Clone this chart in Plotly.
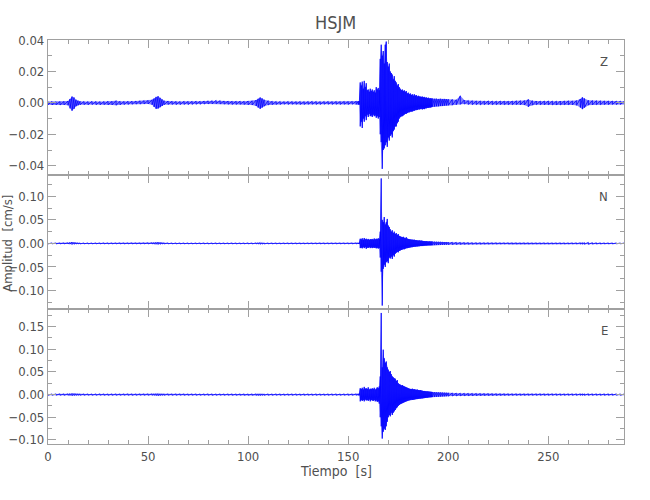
import plotly.graph_objects as go
from plotly.subplots import make_subplots

# Sample times [s] (envelope)
t = [0, 2, 4, 6, 8, 10, 11, 12, 13, 14,
     15, 16, 18, 20, 22, 24, 26, 28, 30, 32,
     34, 36, 38, 40, 42, 44, 46, 48, 50, 52,
     53, 54, 55, 56, 57, 58, 60, 62, 64, 66,
     68, 70, 72, 74, 76, 78, 80, 82, 84, 86,
     88, 90, 92, 94, 96, 98, 100, 102, 104, 105,
     106, 107, 108, 110, 112, 114, 116, 118, 120, 122,
     124, 126, 128, 130, 132, 134, 136, 138, 140, 142,
     144, 146, 148, 150, 152, 154, 155, 155.5, 156, 156.5,
     157, 157.5, 158, 158.5, 159, 159.5, 160, 160.5, 161, 161.5,
     162, 162.5, 163, 163.5, 164, 164.5, 165, 165.5, 166, 166.5,
     167, 167.5, 168, 168.5, 169, 169.5, 170, 170.5, 171, 171.5,
     172, 172.5, 173, 173.5, 174, 174.5, 175, 175.5, 176, 176.5,
     177, 177.5, 178, 178.5, 179, 179.5, 180, 180.5, 181, 181.5,
     182, 182.5, 183, 183.5, 184, 184.5, 185, 185.5, 186, 186.5,
     187, 187.5, 188, 188.5, 189, 189.5, 190, 190.5, 191, 191.5,
     192, 193, 194, 195, 196, 197, 198, 199, 200, 202,
     204, 206, 208, 210, 212, 214, 216, 218, 220, 222,
     224, 226, 228, 230, 232, 234, 236, 238, 240, 242,
     244, 246, 248, 250, 252, 254, 256, 258, 260, 262,
     264, 266, 267, 268, 270, 272, 274, 276, 278, 280,
     282, 284, 286, 288]

# Envelopes in units of 1e-4 cm/s
z_hi = [8, 9, 7, 8, 9, 12, 25, 40, 34, 20,
        14, 10, 9, 8, 10, 9, 8, 9, 10, 9,
        14, 10, 9, 10, 11, 12, 13, 14, 15, 20,
        28, 38, 42, 32, 22, 14, 12, 10, 9, 9,
        10, 9, 10, 11, 10, 12, 13, 14, 16, 14,
        12, 11, 10, 10, 11, 10, 12, 13, 18, 26,
        34, 28, 20, 14, 10, 9, 9, 8, 9, 9,
        8, 9, 8, 9, 10, 9, 8, 9, 9, 8,
        9, 8, 9, 8, 9, 10, 10, 12, 130, 110,
        135, 90, 140, 100, 125, 80, 85, 70, 90, 75,
        85, 70, 80, 65, 100, 85, 95, 80, 280, 370,
        300, 330, 250, 370, 390, 260, 230, 250, 200, 190,
        180, 150, 170, 140, 130, 110, 120, 100, 90, 80,
        85, 75, 80, 70, 75, 60, 65, 55, 60, 50,
        55, 45, 55, 45, 50, 40, 45, 40, 40, 38,
        40, 35, 38, 32, 35, 30, 33, 28, 30, 28,
        28, 26, 27, 25, 26, 24, 25, 24, 23, 22,
        20, 45, 18, 15, 14, 12, 12, 11, 13, 12,
        11, 12, 11, 10, 12, 13, 14, 15, 22, 14,
        12, 11, 12, 13, 12, 11, 12, 12, 13, 12,
        15, 25, 35, 28, 16, 15, 14, 13, 12, 12,
        12, 11, 11, 10]
z_lo = [-12, -13, -12, -14, -13, -15, -35, -50, -38, -22,
        -16, -12, -11, -12, -11, -12, -12, -11, -12, -13,
        -15, -12, -11, -10, -9, -8, -8, -7, -7, -12,
        -26, -38, -36, -28, -20, -12, -10, -10, -11, -11,
        -10, -11, -10, -9, -9, -8, -7, -6, -5, -7,
        -8, -9, -10, -10, -9, -10, -12, -14, -20, -30,
        -38, -30, -22, -14, -11, -10, -10, -9, -10, -9,
        -9, -10, -10, -9, -9, -10, -10, -9, -9, -10,
        -9, -10, -9, -10, -9, -10, -11, -12, -150, -120,
        -160, -100, -120, -85, -110, -75, -90, -70, -85, -80,
        -90, -75, -85, -80, -95, -85, -100, -90, -200, -250,
        -420, -300, -290, -270, -250, -280, -220, -240, -210, -200,
        -220, -180, -170, -150, -150, -130, -120, -100, -90, -85,
        -85, -80, -75, -70, -70, -65, -60, -60, -55, -55,
        -55, -50, -50, -45, -45, -45, -40, -42, -40, -38,
        -42, -38, -40, -35, -35, -32, -32, -30, -30, -28,
        -25, -24, -22, -22, -20, -20, -18, -17, -16, -15,
        -12, -10, -8, -10, -12, -12, -13, -12, -11, -12,
        -12, -11, -12, -12, -12, -11, -12, -14, -25, -15,
        -12, -12, -13, -12, -13, -14, -13, -12, -12, -13,
        -16, -30, -40, -30, -15, -13, -12, -12, -11, -11,
        -10, -11, -10, -10]

n_hi = [10, 10, 9, 10, 10, 11, 18, 28, 20, 14,
        12, 11, 10, 10, 9, 10, 10, 11, 10, 10,
        10, 11, 10, 10, 11, 10, 10, 11, 12, 13,
        16, 22, 26, 20, 15, 12, 11, 10, 10, 10,
        10, 10, 9, 10, 10, 11, 10, 10, 11, 10,
        10, 10, 11, 10, 10, 10, 11, 10, 12, 15,
        20, 16, 12, 10, 10, 10, 9, 10, 10, 10,
        10, 10, 9, 10, 10, 10, 11, 10, 10, 10,
        10, 10, 10, 10, 10, 11, 11, 12, 100, 85,
        110, 75, 115, 85, 100, 80, 95, 75, 90, 85,
        95, 80, 105, 85, 100, 90, 110, 95, 250, 1380,
        500, 450, 560, 400, 450, 520, 380, 350, 300, 250,
        280, 220, 250, 200, 220, 180, 200, 160, 150, 140,
        130, 140, 120, 110, 130, 100, 95, 90, 85, 80,
        80, 75, 80, 70, 70, 65, 60, 65, 55, 60,
        55, 50, 50, 45, 50, 45, 40, 45, 40, 40,
        40, 38, 36, 35, 34, 32, 30, 30, 28, 25,
        22, 20, 18, 17, 16, 15, 15, 14, 14, 13,
        13, 12, 12, 12, 12, 12, 11, 12, 12, 11,
        11, 11, 12, 11, 11, 11, 12, 11, 11, 12,
        12, 14, 16, 18, 22, 16, 13, 12, 11, 11,
        11, 11, 10, 10]
n_lo = [-10, -10, -11, -10, -10, -11, -16, -25, -18, -13,
        -12, -11, -10, -10, -10, -9, -10, -10, -11, -10,
        -10, -10, -11, -10, -10, -10, -11, -10, -11, -12,
        -15, -20, -24, -18, -13, -11, -10, -10, -10, -10,
        -10, -10, -10, -9, -10, -10, -11, -10, -10, -10,
        -10, -10, -10, -11, -10, -10, -10, -11, -12, -14,
        -18, -15, -12, -10, -10, -10, -10, -9, -10, -10,
        -10, -10, -10, -9, -10, -10, -10, -11, -10, -10,
        -10, -10, -10, -10, -10, -11, -11, -12, -100, -90,
        -105, -80, -100, -80, -115, -90, -95, -80, -100, -85,
        -100, -85, -95, -90, -105, -95, -110, -100, -300, -600,
        -1320, -540, -450, -500, -400, -380, -420, -300, -320, -280,
        -330, -250, -280, -220, -200, -180, -190, -160, -150, -140,
        -130, -120, -125, -110, -100, -100, -95, -90, -85, -80,
        -80, -75, -70, -70, -65, -65, -60, -60, -55, -55,
        -55, -50, -48, -45, -45, -42, -40, -40, -40, -38,
        -38, -36, -35, -33, -32, -30, -30, -28, -26, -24,
        -22, -20, -18, -17, -16, -15, -15, -14, -14, -13,
        -13, -12, -12, -12, -12, -12, -11, -12, -12, -11,
        -11, -11, -11, -12, -11, -11, -11, -12, -11, -11,
        -12, -14, -16, -18, -20, -15, -13, -12, -11, -11,
        -11, -10, -10, -10]

e_hi = [15, 14, 15, 16, 15, 16, 20, 25, 22, 18,
        16, 15, 14, 15, 14, 15, 16, 15, 14, 15,
        15, 14, 15, 16, 15, 14, 15, 15, 16, 16,
        17, 20, 22, 18, 16, 15, 15, 14, 15, 15,
        15, 14, 15, 15, 14, 15, 16, 15, 14, 15,
        14, 15, 15, 14, 15, 15, 14, 15, 16, 17,
        18, 17, 15, 15, 14, 15, 15, 14, 15, 15,
        15, 14, 15, 15, 14, 15, 15, 14, 15, 15,
        15, 14, 15, 15, 14, 15, 16, 18, 140, 120,
        150, 110, 170, 130, 140, 120, 160, 110, 130, 120,
        140, 120, 150, 110, 130, 160, 140, 180, 400, 1800,
        600, 990, 800, 700, 730, 600, 550, 500, 520, 450,
        400, 380, 360, 350, 300, 320, 250, 230, 220, 200,
        210, 190, 180, 170, 160, 150, 140, 130, 125, 120,
        130, 115, 120, 110, 105, 110, 100, 95, 100, 90,
        85, 80, 80, 75, 70, 72, 68, 65, 62, 60,
        58, 55, 52, 50, 48, 45, 42, 40, 38, 35,
        32, 30, 28, 26, 25, 24, 23, 22, 21, 20,
        19, 18, 18, 17, 17, 17, 16, 16, 16, 16,
        16, 17, 16, 16, 17, 16, 16, 15, 16, 16,
        16, 16, 17, 16, 17, 16, 16, 15, 16, 16,
        15, 16, 15, 15]
e_lo = [-15, -15, -14, -15, -16, -16, -20, -28, -22, -18,
        -16, -15, -15, -14, -15, -15, -14, -15, -16, -15,
        -15, -15, -14, -15, -16, -15, -14, -15, -15, -16,
        -17, -20, -24, -18, -16, -15, -14, -15, -15, -14,
        -15, -15, -14, -15, -15, -14, -15, -16, -15, -14,
        -15, -14, -15, -15, -14, -15, -15, -14, -16, -18,
        -19, -17, -16, -15, -15, -14, -15, -15, -14, -15,
        -14, -15, -15, -14, -15, -15, -14, -15, -15, -14,
        -15, -15, -14, -15, -15, -15, -16, -18, -150, -120,
        -140, -120, -150, -110, -130, -120, -140, -110, -150, -120,
        -130, -140, -120, -150, -130, -160, -150, -200, -500, -700,
        -970, -820, -750, -780, -700, -600, -500, -450, -480, -400,
        -450, -400, -370, -340, -300, -280, -250, -230, -210, -200,
        -190, -180, -170, -160, -150, -140, -130, -125, -120, -115,
        -120, -115, -110, -105, -100, -100, -95, -90, -90, -85,
        -85, -80, -78, -75, -70, -70, -65, -62, -60, -58,
        -55, -52, -50, -48, -45, -42, -40, -38, -35, -32,
        -30, -28, -26, -25, -24, -22, -21, -20, -20, -19,
        -18, -18, -17, -17, -16, -16, -16, -16, -15, -15,
        -16, -15, -16, -16, -15, -16, -16, -16, -15, -16,
        -16, -16, -16, -17, -16, -16, -15, -16, -16, -15,
        -15, -15, -16, -15]

components = ["Z", "N", "E"]
y_ranges = [[-0.0457, 0.04], [-0.140, 0.146], [-0.109, 0.188]]
y_dticks = [0.02, 0.05, 0.05]
y_minor = [0.01, 0.025, 0.025]
x_ticks = [0, 50, 100, 150, 200, 250]
UNIT = 1e-4

for arr in (z_hi, z_lo, n_hi, n_lo, e_hi, e_lo):
    assert len(arr) == len(t), (len(arr), len(t))

BLUE = "#0000ff"
AX = "#a0a0a0"
TXT = "#505050"
FONT = "Liberation Sans Narrow, DejaVu Sans Condensed, sans-serif"

fig = make_subplots(rows=3, cols=1, shared_xaxes=True, vertical_spacing=0)

series = [(z_hi, z_lo), (n_hi, n_lo), (e_hi, e_lo)]
for i, (hi, lo) in enumerate(series):
    row = i + 1
    hi_v = [v * UNIT for v in hi]
    lo_v = [v * UNIT for v in lo]
    fig.add_trace(go.Scatter(x=t + t[::-1], y=hi_v + lo_v[::-1], fill="toself",
                             fillcolor="rgba(0,0,255,0.5)", line=dict(width=0),
                             mode="lines", hoverinfo="skip", showlegend=False),
                  row=row, col=1)
    xs, ys = [], []
    for ti, h, l in zip(t, hi_v, lo_v):
        xs += [ti, ti]
        ys += [h, l]
    fig.add_trace(go.Scatter(x=xs, y=ys, mode="lines",
                             line=dict(color=BLUE, width=0.8),
                             showlegend=False),
                  row=row, col=1)

    fig.update_yaxes(row=row, col=1, range=y_ranges[i], dtick=y_dticks[i], tick0=0,
                     tickformat=".2f", showline=True, linecolor=AX, linewidth=1.2,
                     mirror="allticks", ticks="inside", ticklen=8, tickwidth=1.2,
                     tickcolor=AX, showgrid=False, zeroline=False, automargin=False,
                     minor=dict(dtick=y_minor[i], tick0=0, ticks="inside", ticklen=4,
                                tickcolor=AX, tickwidth=1.2, showgrid=False),
                     tickfont=dict(family=FONT, size=13, color=TXT))
    fig.update_xaxes(row=row, col=1, range=[0, 287.8], tickvals=x_ticks,
                     showline=True, linecolor=AX, linewidth=1.2, mirror="allticks",
                     ticks="inside", ticklen=8, tickwidth=1.2, tickcolor=AX,
                     showgrid=False, zeroline=False, automargin=False,
                     minor=dict(dtick=10, tick0=0, ticks="inside", ticklen=4,
                                tickcolor=AX, tickwidth=1.2, showgrid=False),
                     showticklabels=(row == 3),
                     tickfont=dict(family=FONT, size=13, color=TXT))
    fig.add_annotation(text=components[i], xref=f"x{'' if row == 1 else row} domain",
                       yref=f"y{'' if row == 1 else row} domain", x=0.976, y=0.84,
                       xanchor="right", yanchor="middle", showarrow=False,
                       font=dict(family=FONT, size=13, color=TXT))

fig.add_annotation(text="Amplitud  [cm/s]", xref="paper", yref="paper", x=-0.0695, y=0.498,
                   textangle=-90, showarrow=False, xanchor="center", yanchor="middle",
                   font=dict(family=FONT, size=13, color=TXT))
fig.add_annotation(text="Tiempo  [s]", xref="paper", yref="paper", x=0.5, y=-0.066,
                   showarrow=False, xanchor="center", yanchor="middle",
                   font=dict(family=FONT, size=14, color=TXT))

fig.update_layout(
    width=650, height=500,
    margin=dict(l=48, r=26, t=40, b=56, autoexpand=False),
    paper_bgcolor="white", plot_bgcolor="white",
    title=dict(text="HSJM", x=0.5165, xanchor="center", y=0.954, yanchor="middle",
               font=dict(family=FONT, size=18, color=TXT)),
    showlegend=False,
)

# remove the browser's default page margin so the figure sits at the window corner
fig.write_html("out.html", config={"displayModeBar": False},
               post_script="document.body.style.margin='0';")
